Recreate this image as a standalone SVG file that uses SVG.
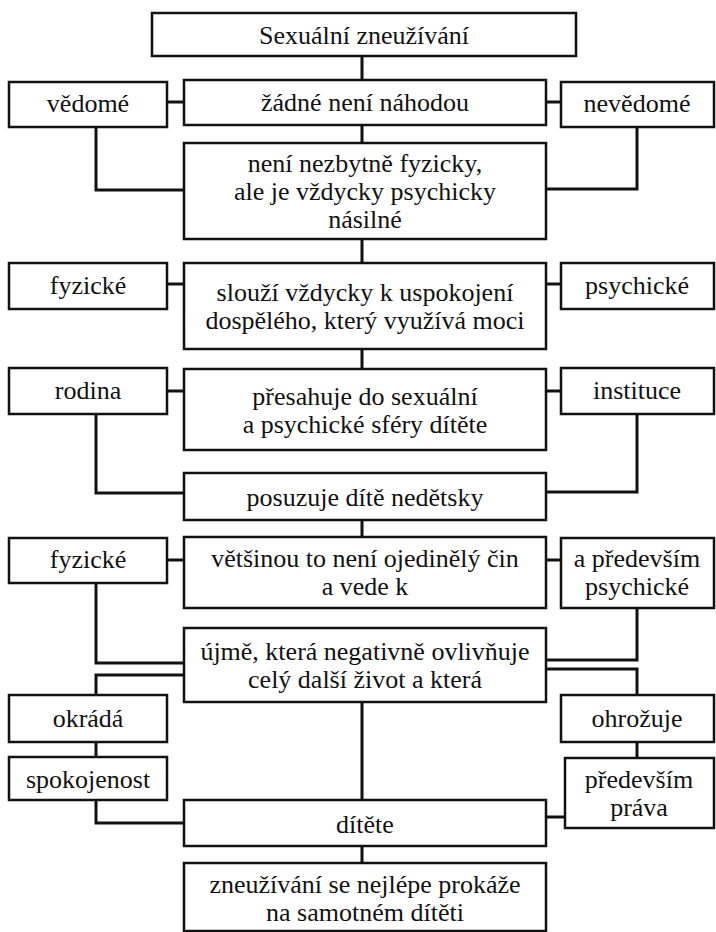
<svg xmlns="http://www.w3.org/2000/svg" width="716" height="932" viewBox="0 0 716 932">
<style>
.b{fill:#fff;stroke:#111;stroke-width:2.5}
.c{fill:none;stroke:#111;stroke-width:3}
.t text{font-family:'Liberation Serif','Times New Roman',serif;font-size:26px;fill:#111;text-anchor:middle;dominant-baseline:central}
</style>
<rect width="716" height="932" fill="#fff"/>
<g id="connectors">
<path class="c" d="M362 56V80M362 125V143M362 239V263M362 349V369M362 520V537M362 702V800M362 846V863"/>
<path class="c" d="M167 102H184M546 102H561M167 284H184M546 284H561M167 391H184M546 391H561M167 560H184M546 560H561"/>
<path class="c" d="M96 127V190H184M637 127V189H546"/>
<path class="c" d="M96 414V493H184M637 414V492H546"/>
<path class="c" d="M96 583V663H184M637 608V660H546"/>
<path class="c" d="M184 675H96V695M546 669H637V695"/>
<path class="c" d="M96 742V757M637 742V758"/>
<path class="c" d="M96 800V823H184M546 817H565"/>
</g>
<g class="t" font-family="Liberation Serif, serif">
<g id="n0"><rect class="b" x="152" y="13" width="424" height="43"/><text x="364" y="35">Sexuální zneužívání</text></g>
<g id="n1"><rect class="b" x="9" y="82" width="158" height="45"/><text x="88" y="103">vědomé</text></g>
<g id="n2"><rect class="b" x="184" y="80" width="362" height="45"/><text x="365" y="102">žádné není náhodou</text></g>
<g id="n3"><rect class="b" x="561" y="82" width="153" height="45"/><text x="637" y="103">nevědomé</text></g>
<g id="n4"><rect class="b" x="184" y="143" width="362" height="96"/><text x="365" y="163">není nezbytně fyzicky,</text><text x="365" y="191">ale je vždycky psychicky</text><text x="365" y="219">násilné</text></g>
<g id="n5"><rect class="b" x="9" y="263" width="158" height="46"/><text x="88" y="285">fyzické</text></g>
<g id="n6"><rect class="b" x="184" y="263" width="362" height="86"/><text x="365" y="292">slouží vždycky k uspokojení</text><text x="365" y="320">dospělého, který využívá moci</text></g>
<g id="n7"><rect class="b" x="561" y="263" width="153" height="46"/><text x="637" y="285">psychické</text></g>
<g id="n8"><rect class="b" x="9" y="368" width="158" height="46"/><text x="88" y="390">rodina</text></g>
<g id="n9"><rect class="b" x="184" y="369" width="362" height="81"/><text x="365" y="396">přesahuje do sexuální</text><text x="365" y="424">a psychické sféry dítěte</text></g>
<g id="n10"><rect class="b" x="561" y="368" width="153" height="46"/><text x="637" y="390">instituce</text></g>
<g id="n11"><rect class="b" x="184" y="473" width="362" height="47"/><text x="365" y="497">posuzuje dítě nedětsky</text></g>
<g id="n12"><rect class="b" x="9" y="538" width="158" height="45"/><text x="88" y="559">fyzické</text></g>
<g id="n13"><rect class="b" x="184" y="537" width="362" height="71"/><text x="365" y="558">většinou to není ojedinělý čin</text><text x="365" y="586">a vede k</text></g>
<g id="n14"><rect class="b" x="561" y="538" width="153" height="70"/><text x="637" y="558">a především</text><text x="637" y="586">psychické</text></g>
<g id="n15"><rect class="b" x="184" y="628" width="362" height="74"/><text x="365" y="651">újmě, která negativně ovlivňuje</text><text x="365" y="679">celý další život a která</text></g>
<g id="n16"><rect class="b" x="9" y="695" width="158" height="47"/><text x="88" y="718">okrádá</text></g>
<g id="n17"><rect class="b" x="561" y="695" width="153" height="47"/><text x="637" y="718">ohrožuje</text></g>
<g id="n18"><rect class="b" x="9" y="757" width="158" height="43"/><text x="88" y="779">spokojenost</text></g>
<g id="n19"><rect class="b" x="565" y="758" width="149" height="70"/><text x="639" y="779">především</text><text x="639" y="807">práva</text></g>
<g id="n20"><rect class="b" x="184" y="800" width="362" height="46"/><text x="365" y="824">dítěte</text></g>
<g id="n21"><rect class="b" x="184" y="863" width="362" height="68"/><text x="365" y="884">zneužívání se nejlépe prokáže</text><text x="365" y="912">na samotném dítěti</text></g>
</g>
</svg>
